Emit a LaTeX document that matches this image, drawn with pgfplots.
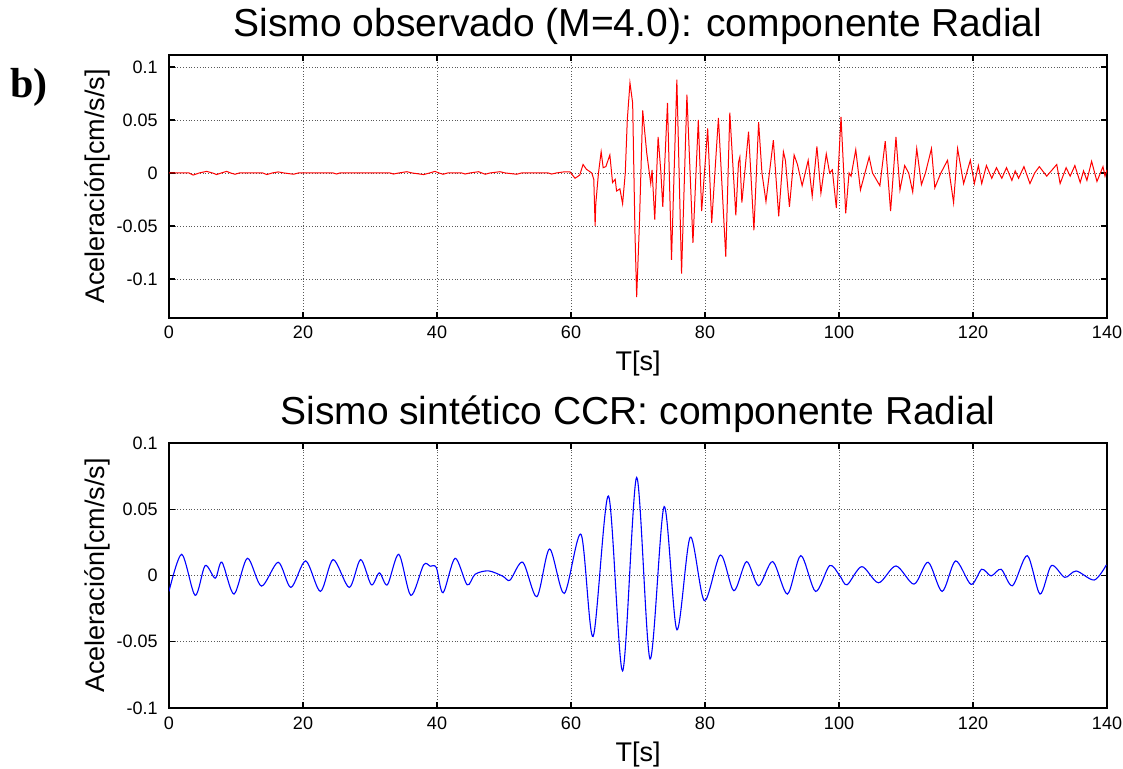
\documentclass[border=0pt]{standalone}
\usepackage{pgfplots}
\pgfplotsset{compat=1.18}
\usepackage{fontspec}
\setmainfont{Liberation Sans}
\newfontfamily\serifb{Liberation Serif}
\begin{document}
\begin{tikzpicture}
\useasboundingbox (0,0) rectangle (561.5pt,-384.5pt);
\pgfplotsset{
  myax/.style={
    scale only axis, width=469pt,
    xmin=0, xmax=140,
    xtick={0,20,40,60,80,100,120,140},
    xticklabels={0,20,40,60,80,100,120,140},
    ytick={-0.1,-0.05,0,0.05,0.1},
    yticklabels={-0.1,-0.05,0,0.05,0.1},
    tick align=inside, major tick length=3pt,
    xtick pos=both, ytick pos=both,
    tick style={black, line width=0.6pt},
    axis line style={black, line width=0.8pt},
    grid=major,
    major grid style={densely dotted, black!65, line width=0.45pt},
    ticklabel style={font=\fontsize{9}{10}\selectfont},
    xticklabel style={anchor=base, inner sep=0pt, yshift=-10.5pt},
    yticklabel style={anchor=east, inner sep=0pt, xshift=-5.5pt},
    label style={font=\fontsize{13.5}{15}\selectfont},
    ylabel style={at={(axis description cs:-0.0768,0.5)}, anchor=center, rotate=0},
    title style={font=\fontsize{19.5}{22}\selectfont, anchor=base},
    clip mode=individual,
  }
}
\begin{axis}[myax, at={(84.5pt,-27.5pt)}, anchor=north west, height=131.5pt,
  ymin=-0.1368, ymax=0.1113,
  title={Sismo observado (M=4.0): componente Radial},
  title style={at={(axis description cs:0.5,1.0228)}},
  xlabel={T[s]}, xlabel style={at={(axis description cs:0.5,-0.198)}, anchor=base},
  ylabel={Aceleración[cm/s/s]}]
\addplot[red, line width=0.5pt] coordinates {
(0,0) (3.0,0) (3.6,-0.002) (4.5,0) (5.6,0.0015) (6.5,0) (7.1,-0.0015) (7.8,0) (8.6,0.0015) (9.2,0) (9.85,-0.0012) (10.5,0)
(14.0,0) (14.6,-0.0015) (15.4,0) (16.3,0.001) (17.2,0) (18.6,-0.0012) (19.3,0) (24.5,0) (25.0,-0.001) (25.5,0)
(33.0,0) (33.5,-0.001) (34.3,0) (35.5,0.0012) (36.3,0) (38.0,-0.0015) (38.9,0) (39.7,0.0015) (40.3,0) (40.9,-0.0012) (41.6,0)
(43.7,0) (44.2,-0.001) (44.9,0) (46.2,0.0012) (46.7,0) (47.2,-0.0012) (47.9,0) (49.4,0.0012) (50.2,0) (51.9,-0.0012) (52.6,0)
(56.6,0) (57.1,-0.001) (57.8,0) (58.9,0.001) (59.85,0.001)
(60.6,-0.005) (61.3,-0.002) (61.8,0.008) (62.3,0.0035) (63.1,0) (63.4,-0.006) (63.6,-0.05) (63.7,-0.029) (64.1,0) (64.5,0.020)
(64.8,0.005) (65.2,0.006) (65.8,0.017) (66.2,-0.009) (66.6,-0.006) (66.8,-0.017) (67.3,-0.015) (67.7,-0.029) (68.1,0) (68.4,0.05)
(68.8,0.085) (69.2,0.066) (69.55,-0.057) (69.8,-0.117) (70.2,-0.05) (70.7,0.059) (71.3,0.019) (71.9,-0.01) (72.1,0.003) (72.5,-0.044)
(73.0,0.034) (73.4,0.002) (73.7,-0.032) (74.4,0.066) (75.0,-0.082) (75.8,0.088) (76.5,-0.095) (77.3,0.074) (78.2,-0.066) (79.0,0.05)
(79.5,-0.036) (80.4,0.042) (81.0,-0.047) (82.0,0.052) (83.1,-0.079) (83.7,0.057) (84.6,-0.040) (85.0,0.01) (85.2,0.015) (85.5,-0.028)
(86.0,0.005) (86.5,0.039) (87.3,-0.054) (88.0,0.048) (88.5,0.0) (89.1,-0.027) (90.2,0.031) (91.0,-0.041) (91.7,0.020) (92.0,0.012)
(92.6,-0.032) (93.3,0.017) (93.8,0.008) (94.5,-0.012) (95.4,0.012) (96.0,-0.022) (96.7,0.025) (97.3,-0.019) (98.1,0.018) (98.6,0.0)
(99.0,0.003) (99.6,-0.033) (100.3,0.053) (101.0,-0.038) (101.5,0.0) (101.8,-0.003) (102.5,0.022) (103.2,-0.016) (104.5,0.015) (105.0,0.0)
(106.1,-0.012) (106.9,0.03) (107.7,-0.036) (108.5,0.034) (109.1,-0.016) (109.8,0.007) (110.4,0.0) (111.0,-0.018) (111.6,0.023) (112.3,-0.011)
(112.9,0.0) (113.8,0.023) (114.3,-0.014) (115.2,0.0) (116.2,0.012) (117.1,-0.028) (117.7,0.023) (118.6,-0.01) (119.6,0.012) (120.2,-0.01)
(120.8,0.007) (121.3,-0.01) (122.0,0.007) (122.8,-0.005) (123.5,0.005) (124.3,-0.005) (125.0,0.005) (125.8,-0.007) (126.3,0.002) (126.8,-0.005)
(127.6,0.006) (128.5,-0.01) (129.2,0.0) (129.9,0.006) (131.0,-0.003) (132.5,0.008) (133.0,-0.01) (133.9,0.005) (134.5,-0.003) (135.2,0.007)
(136.0,-0.009) (136.5,0.002) (137.0,-0.007) (137.7,0.011) (138.5,-0.008) (139.4,0.006) (139.7,-0.003) (140,0.003)
};
\node[anchor=base west, font=\serifb\bfseries\fontsize{21}{24}\selectfont, inner sep=0pt] at (axis description cs:-0.1695,0.840) {b)};
\end{axis}
\begin{axis}[myax, at={(84.5pt,-221.5pt)}, anchor=north west, height=132.5pt,
  ymin=-0.1, ymax=0.1,
  title={Sismo sintético CCR: componente Radial},
  title style={at={(axis description cs:0.5,1.0264)}},
  xlabel={T[s]}, xlabel style={at={(axis description cs:0.5,-0.2)}, anchor=base},
  ylabel={Aceleración[cm/s/s]}]
\addplot[blue, line width=0.55pt, smooth] coordinates {
(0,-0.012) (1.9,0.016) (3.9,-0.015) (5.4,0.0075) (6.9,-0.002) (7.9,0.010) (9.7,-0.014) (11.7,0.013) (13.8,-0.008)
(16.3,0.010) (18.2,-0.009) (20.4,0.011) (22.6,-0.012) (24.5,0.012) (26.9,-0.009) (28.6,0.012) (30.2,-0.007) (31.4,0.002)
(32.6,-0.007) (34.3,0.016) (36.1,-0.015) (38.0,0.008) (39.0,0.007) (39.9,0.006) (40.9,-0.013) (42.7,0.013) (44.5,-0.007)
(45.7,0.001) (47.7,0.0035) (49.9,-0.0007) (50.9,-0.0035) (52.8,0.010) (54.9,-0.016) (56.8,0.020) (59.0,-0.0135) (61.5,0.031)
(63.3,-0.046) (65.6,0.060) (67.7,-0.072) (69.8,0.074) (71.8,-0.063) (73.9,0.052) (75.8,-0.041) (77.8,0.029) (79.9,-0.019)
(82.3,0.0155) (84.3,-0.0115) (86.2,0.0105) (88.0,-0.0077) (90.1,0.0105) (92.3,-0.014) (94.3,0.015) (96.5,-0.012) (98.6,0.0075)
(100.1,0.0) (101.2,-0.007) (103.4,0.0067) (105.9,-0.0055) (108.5,0.0072) (111.2,-0.0065) (113.3,0.010) (115.4,-0.012) (117.4,0.011)
(119.7,-0.0067) (121.3,0.0047) (122.7,-0.0003) (124.2,0.0047) (125.9,-0.0077) (128.1,0.015) (130.0,-0.014) (131.7,0.0075)
(133.7,-0.0014) (135.4,0.0034) (138.1,-0.0034) (139.9,0.008)
};
\end{axis}
\end{tikzpicture}
\end{document}
